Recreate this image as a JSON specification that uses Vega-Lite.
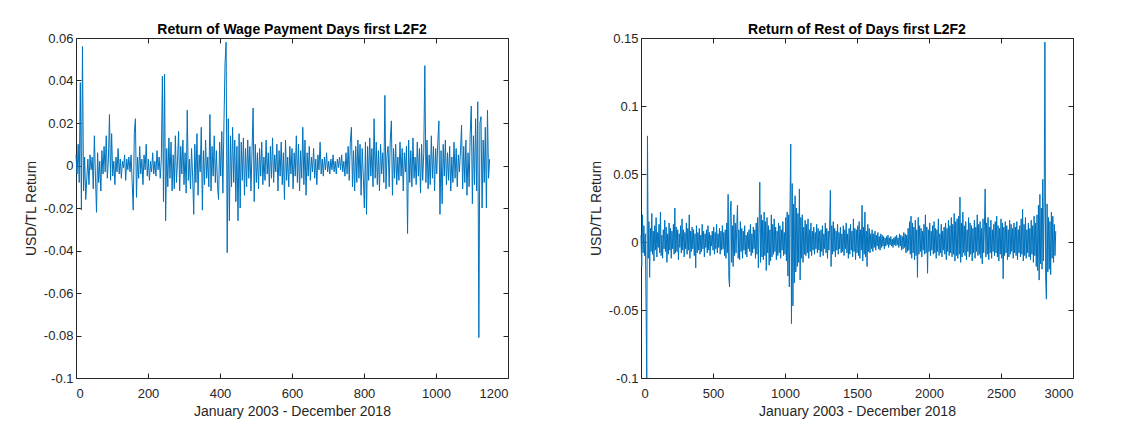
{
"$schema":"https://vega.github.io/schema/vega-lite/v6.json",
"padding":{"left":23,"top":22,"right":5,"bottom":5},
"background":"white",
"spacing":133,
"bounds":"flush",
"config":{
"view":{"stroke":"#262626","strokeWidth":1},
"font":"Liberation Sans",
"axis":{"grid":false,"domain":false,"tickColor":"#262626","tickSize":-5,"tickWidth":1,"labelColor":"#262626","labelFont":"Liberation Sans","labelFontSize":13,"titleFont":"Liberation Sans","titleFontSize":14,"titleFontWeight":"normal","titleColor":"#262626"},
"axisX":{"labelPadding":14,"titlePadding":4},
"axisY":{"labelPadding":8,"titlePadding":5},
"title":{"font":"Liberation Sans","fontSize":14,"fontWeight":"bold","color":"#000000","offset":-5}
},
"hconcat":[
{
"width":432,"height":340,
"title":"Return of Wage Payment Days first L2F2",
"layer":[
{
"data":{"values":[{"x":[0,3,6,9,12,15,18,21,24,27,30,33,36,39,42,45,48,51,54,57,60,63,66,69,72,75,78,81,84,87,90,93,96,99,102,105,108,111,114,117,120,123,126,129,132,135,138,141,144,147,150,153,156,159,162,165,168,171,174,177,180,183,186,189,192,195,198,201,204,207,210,213,216,219,222,225,228,231,234,237,240,243,246,249,252,255,258,261,264,267,270,273,276,279,282,285,288,291,294,297,300,303,306,309,312,315,318,321,324,327,330,333,336,339,342,345,348,351,354,357,360,363,366,369,372,375,378,381,384,387,390,393,396,399,402,405,408,411,414,417,420,423,426,429,432,435,438,441,444,447,450,453,456,459,462,465,468,471,474,477,480,483,486,489,492,495,498,501,504,507,510,513,516,519,522,525,528,531,534,537,540,543,546,549,552,555,558,561,564,567,570,573,576,579,582,585,588,591,594,597,600,603,606,609,612,615,618,621,624,627,630,633,636,639,642,645,648,651,654,657,660,663,666,669,672,675,678,681,684,687,690,693,696,699,702,705,708,711,714,717,720,723,726,729,732,735,738,741,744,747,750,753,756,759,762,765,768,771,774,777,780,783,786,789,792,795,798,801,804,807,810,813,816,819,822,825,828,831,834,837,840,843,846,849,852,855,858,861,864,867,870,873,876,879,882,885,888,891,894,897,900,903,906,909,912,915,918,921,924,927,930,933,936,939,942,945,948,951,954,957,960,963,966,969,972,975,978,981,984,987,990,993,996,999,1002,1005,1008,1011,1014,1017,1020,1023,1026,1029,1032,1035,1038,1041,1044,1047,1050,1053,1056,1059,1062,1065,1068,1071,1074,1077,1080,1083,1086,1089,1092,1095,1098,1101,1104,1107,1110,1113,1116,1119,1122,1125,1128,1131,1134,1137,1140,1143,1146,1149],
"y":[0.005,-0.004,0.010,-0.008,0.039,-0.021,0.056,-0.012,0.004,-0.016,
-0.006,0.003,-0.009,0.005,-0.002,0.004,-0.011,0.014,-0.005,-0.022,
0.006,-0.008,0.002,-0.012,0.007,-0.004,0.009,-0.003,0.014,-0.006,
0.003,0.024,-0.007,0.015,-0.005,0.002,-0.009,0.004,-0.003,0.008,
-0.004,0.003,-0.006,0.002,-0.001,0.005,-0.007,0.003,-0.002,0.004,
-0.003,0.005,-0.008,-0.021,0.015,0.022,-0.015,0.004,-0.006,0.009,
-0.004,0.003,-0.009,0.005,-0.002,0.010,-0.005,0.003,-0.007,0.002,
-0.003,0.006,-0.004,0.002,-0.005,0.007,-0.002,0.004,-0.006,0.003,
0.042,-0.017,0.043,-0.026,0.008,-0.010,0.013,-0.006,0.011,-0.012,
0.005,-0.011,0.014,-0.008,0.002,0.016,-0.012,0.009,-0.004,0.012,
-0.009,0.006,-0.013,0.026,-0.007,0.003,-0.011,0.008,-0.005,-0.023,
0.010,-0.008,0.015,-0.014,0.005,-0.003,0.018,-0.021,0.007,-0.009,
0.012,-0.006,0.004,-0.010,0.024,-0.012,0.009,-0.005,0.014,-0.008,
0.007,-0.009,-0.016,0.011,-0.005,0.016,-0.013,0.020,0.048,0.058,
-0.041,0.022,-0.026,0.014,-0.010,0.018,-0.008,0.012,-0.017,0.009,
-0.026,0.015,-0.020,0.011,-0.007,0.013,-0.014,0.008,-0.010,0.012,
-0.006,0.009,-0.012,0.007,0.027,-0.017,0.010,-0.008,0.006,-0.011,
0.008,-0.005,0.011,-0.009,0.004,-0.007,0.012,-0.004,0.006,-0.010,
0.009,-0.006,0.013,-0.008,0.005,-0.003,0.010,-0.012,0.007,-0.005,
0.011,-0.009,0.006,-0.016,0.012,-0.007,0.004,-0.010,0.009,-0.004,
0.008,-0.011,0.006,-0.005,0.014,-0.008,0.010,-0.012,0.007,-0.006,
0.018,-0.009,0.012,-0.014,0.006,-0.005,0.009,-0.007,0.004,-0.003,
0.008,-0.006,0.003,-0.009,0.005,-0.002,0.011,-0.004,0.003,-0.005,
0.004,-0.002,0.006,-0.003,0.002,-0.004,0.003,-0.002,0.005,-0.003,
0.002,-0.004,0.003,-0.001,0.004,-0.002,0.005,-0.003,0.002,-0.005,
0.006,-0.004,0.009,-0.007,0.011,0.018,-0.010,0.007,-0.012,0.009,
-0.008,0.012,-0.006,0.010,-0.014,0.008,-0.005,-0.020,0.011,-0.023,
0.009,-0.007,0.013,-0.005,0.008,-0.010,0.022,-0.006,0.011,-0.009,
0.007,-0.012,0.010,-0.004,0.006,-0.008,0.033,-0.011,0.005,0.009,
-0.010,0.012,0.021,-0.014,0.008,-0.006,0.010,-0.009,0.004,-0.007,
0.011,-0.005,0.008,-0.012,0.006,-0.003,0.009,-0.032,0.012,-0.008,
0.007,-0.010,0.013,-0.006,0.004,-0.009,0.011,-0.005,0.008,-0.013,
0.010,-0.007,0.006,0.047,-0.008,0.012,-0.011,0.005,-0.009,0.014,
-0.006,0.009,-0.012,0.008,-0.004,0.011,0.021,-0.023,0.007,-0.018,
0.010,-0.005,0.012,-0.009,0.006,-0.007,0.009,-0.012,0.004,-0.008,
0.011,-0.006,0.008,-0.010,0.005,-0.003,0.007,0.019,-0.011,0.009,
-0.008,0.012,-0.014,0.006,-0.010,0.015,0.028,-0.018,0.014,-0.009,
0.022,-0.012,0.030,-0.081,0.020,0.023,-0.020,0.012,-0.008,0.018,
-0.020,0.026,-0.006,0.003]}]},
"transform":[{"flatten":["x","y"]}],
"mark":{"type":"line","color":"#0072BD","strokeWidth":1},
"encoding":{
"x":{"field":"x","type":"quantitative","scale":{"domain":[0,1200],"nice":false,"zero":false},"axis":{"values":[0,200,400,600,800,1000,1200],"format":"d","title":"January 2003 - December 2018"}},
"y":{"field":"y","type":"quantitative","scale":{"domain":[-0.1,0.06],"nice":false,"zero":false},"axis":{"values":[-0.1,-0.08,-0.06,-0.04,-0.02,0,0.02,0.04,0.06],"labelExpr":"replace(format(datum.value,'.2~f'),'−','-')","title":"USD/TL Return"}}
}
},
{
"data":{"values":[{"x":0,"y":0}]},
"mark":{"type":"point","opacity":0},
"encoding":{
"x":{"field":"x","type":"quantitative","scale":{"domain":[0,1200],"nice":false,"zero":false},"axis":{"orient":"top","values":[0,200,400,600,800,1000,1200],"labels":false,"title":null}},
"y":{"field":"y","type":"quantitative","scale":{"domain":[-0.1,0.06],"nice":false,"zero":false},"axis":{"orient":"right","values":[-0.1,-0.08,-0.06,-0.04,-0.02,0,0.02,0.04,0.06],"labels":false,"title":null}}
}
}
],
"resolve":{"axis":{"x":"independent","y":"independent"}}
},
{
"width":432,"height":340,
"title":"Return of Rest of Days first L2F2",
"layer":[
{
"data":{"values":[{"x":[0,5,10,15,20,25,30,35,40,45,50,55,60,65,70,75,80,85,90,95,100,105,110,115,120,125,130,135,140,145,150,155,160,165,170,175,180,185,190,195,200,205,210,215,220,225,230,235,240,245,250,255,260,265,270,275,280,285,290,295,300,305,310,315,320,325,330,335,340,345,350,355,360,365,370,375,380,385,390,395,400,405,410,415,420,425,430,435,440,445,450,455,460,465,470,475,480,485,490,495,500,505,510,515,520,525,530,535,540,545,550,555,560,565,570,575,580,585,590,595,600,605,610,615,620,625,630,635,640,645,650,655,660,665,670,675,680,685,690,695,700,705,710,715,720,725,730,735,740,745,750,755,760,765,770,775,780,785,790,795,800,805,810,815,820,825,830,835,840,845,850,855,860,865,870,875,880,885,890,895,900,905,910,915,920,925,930,935,940,945,950,955,960,965,970,975,980,985,990,995,1000,1005,1010,1015,1020,1025,1030,1035,1040,1045,1050,1055,1060,1065,1070,1075,1080,1085,1090,1095,1100,1105,1110,1115,1120,1125,1130,1135,1140,1145,1150,1155,1160,1165,1170,1175,1180,1185,1190,1195,1200,1205,1210,1215,1220,1225,1230,1235,1240,1245,1250,1255,1260,1265,1270,1275,1280,1285,1290,1295,1300,1305,1310,1315,1320,1325,1330,1335,1340,1345,1350,1355,1360,1365,1370,1375,1380,1385,1390,1395,1400,1405,1410,1415,1420,1425,1430,1435,1440,1445,1450,1455,1460,1465,1470,1475,1480,1485,1490,1495,1500,1505,1510,1515,1520,1525,1530,1535,1540,1545,1550,1555,1560,1565,1570,1575,1580,1585,1590,1595,1600,1605,1610,1615,1620,1625,1630,1635,1640,1645,1650,1655,1660,1665,1670,1675,1680,1685,1690,1695,1700,1705,1710,1715,1720,1725,1730,1735,1740,1745,1750,1755,1760,1765,1770,1775,1780,1785,1790,1795,1800,1805,1810,1815,1820,1825,1830,1835,1840,1845,1850,1855,1860,1865,1870,1875,1880,1885,1890,1895,1900,1905,1910,1915,1920,1925,1930,1935,1940,1945,1950,1955,1960,1965,1970,1975,1980,1985,1990,1995,2000,2005,2010,2015,2020,2025,2030,2035,2040,2045,2050,2055,2060,2065,2070,2075,2080,2085,2090,2095,2100,2105,2110,2115,2120,2125,2130,2135,2140,2145,2150,2155,2160,2165,2170,2175,2180,2185,2190,2195,2200,2205,2210,2215,2220,2225,2230,2235,2240,2245,2250,2255,2260,2265,2270,2275,2280,2285,2290,2295,2300,2305,2310,2315,2320,2325,2330,2335,2340,2345,2350,2355,2360,2365,2370,2375,2380,2385,2390,2395,2400,2405,2410,2415,2420,2425,2430,2435,2440,2445,2450,2455,2460,2465,2470,2475,2480,2485,2490,2495,2500,2505,2510,2515,2520,2525,2530,2535,2540,2545,2550,2555,2560,2565,2570,2575,2580,2585,2590,2595,2600,2605,2610,2615,2620,2625,2630,2635,2640,2645,2650,2655,2660,2665,2670,2675,2680,2685,2690,2695,2700,2705,2710,2715,2720,2725,2730,2735,2740,2745,2750,2755,2760,2765,2770,2775,2780,2785,2790,2795,2800,2805,2810,2815,2820,2825,2830,2835,2840,2845,2850,2855,2860,2865,2870,2875,2880],
"y":[0.005,-0.018,0.020,-0.008,0.012,-0.010,0.006,-0.045,-0.100,0.078,
-0.012,0.015,-0.026,0.010,-0.007,0.021,-0.009,0.008,-0.014,0.012,
-0.006,0.018,-0.011,0.007,-0.004,0.013,-0.008,0.022,-0.010,0.005,
-0.012,0.009,-0.005,0.016,-0.007,0.011,-0.015,0.006,-0.009,0.014,
-0.006,0.010,-0.012,0.008,-0.005,0.013,-0.009,0.025,-0.008,0.011,
-0.007,0.009,-0.013,0.006,-0.004,0.012,-0.008,0.017,-0.006,0.009,
-0.011,0.007,-0.005,0.014,-0.009,0.010,-0.006,0.020,-0.012,0.008,
-0.007,0.011,-0.005,0.009,-0.010,0.006,-0.019,0.012,-0.008,0.007,
-0.006,0.010,-0.009,0.005,-0.007,0.013,-0.005,0.008,-0.011,0.006,
-0.004,0.009,-0.008,0.012,-0.006,0.007,-0.010,0.005,-0.003,0.008,
-0.006,0.011,-0.009,0.007,-0.005,0.013,-0.008,0.006,-0.004,0.010,
-0.009,0.008,-0.006,0.012,-0.005,0.007,-0.010,0.009,-0.012,0.014,
-0.008,0.035,-0.026,-0.033,0.022,0.030,-0.015,0.012,-0.018,0.020,
-0.010,0.014,-0.008,0.011,0.027,-0.012,0.009,-0.013,0.015,-0.007,
0.010,-0.012,0.008,-0.006,0.012,-0.009,0.005,-0.011,0.007,-0.005,
0.009,-0.007,0.013,-0.010,0.006,-0.008,0.011,-0.005,0.009,-0.012,
0.014,-0.009,0.018,-0.019,0.012,0.044,-0.015,0.020,-0.011,0.016,
-0.013,0.022,-0.010,0.015,-0.021,0.018,-0.008,0.012,-0.017,0.009,
-0.014,0.020,-0.011,0.013,-0.009,0.017,-0.007,0.011,-0.013,0.008,
-0.010,0.014,-0.008,0.012,-0.012,0.009,-0.006,0.015,-0.010,0.007,
-0.009,0.018,-0.014,0.022,-0.025,0.020,-0.033,0.030,0.072,-0.060,
0.043,-0.047,0.028,-0.030,0.034,-0.022,0.025,-0.018,0.021,-0.015,
0.039,-0.028,0.018,-0.012,0.020,-0.015,0.011,-0.009,0.016,-0.010,
0.013,-0.008,0.017,-0.012,0.009,-0.007,0.014,-0.010,0.008,-0.006,
0.011,-0.009,0.007,-0.005,0.013,-0.008,0.010,-0.006,0.008,-0.011,
0.009,-0.007,0.012,-0.010,0.006,-0.005,0.014,-0.008,0.010,-0.012,
0.008,-0.006,0.011,0.038,-0.018,0.012,-0.009,0.015,-0.007,0.010,
-0.011,0.008,-0.006,0.013,-0.009,0.007,-0.005,0.011,-0.008,0.006,
-0.007,0.012,-0.010,0.009,-0.005,0.014,-0.008,0.006,-0.012,0.010,
-0.009,0.013,-0.006,0.008,-0.011,0.017,-0.007,0.010,-0.013,0.009,
-0.008,0.012,-0.010,0.015,-0.012,0.009,-0.006,0.027,-0.014,0.011,
-0.009,0.022,-0.011,0.008,-0.018,0.013,-0.007,0.010,-0.008,0.006,
-0.005,0.009,-0.007,0.006,-0.004,0.008,-0.006,0.005,-0.003,0.007,
-0.005,0.004,-0.006,0.006,-0.004,0.005,-0.003,0.004,-0.005,0.003,
-0.003,0.004,-0.002,0.005,-0.004,0.003,-0.002,0.004,-0.003,0.002,
-0.004,0.003,-0.002,0.004,-0.003,0.005,-0.002,0.003,-0.004,0.006,
-0.003,0.005,-0.006,0.004,-0.005,0.007,-0.004,0.006,-0.008,0.005,
-0.007,0.010,-0.006,0.015,-0.009,0.019,-0.012,0.014,-0.008,0.011,
-0.013,0.016,-0.010,0.009,-0.026,0.018,-0.009,0.012,-0.007,0.010,
-0.011,0.008,-0.006,0.013,-0.009,0.020,-0.008,0.011,-0.023,0.009,
-0.007,0.014,-0.010,0.008,-0.006,0.012,-0.009,0.015,-0.008,0.010,
-0.012,0.009,-0.007,0.017,-0.010,0.006,-0.008,0.013,-0.011,0.008,
-0.006,0.011,-0.009,0.014,-0.013,0.010,-0.007,0.016,-0.010,0.012,
-0.008,0.018,-0.011,0.013,-0.009,0.021,-0.014,0.015,-0.010,0.017,
-0.012,0.019,-0.009,0.033,-0.015,0.014,-0.011,0.022,-0.008,0.012,
-0.010,0.015,-0.013,0.009,-0.007,0.018,-0.011,0.014,-0.009,0.012,
-0.014,0.010,-0.008,0.016,-0.012,0.011,-0.007,0.020,-0.010,0.013,
-0.009,0.015,-0.012,0.010,-0.016,0.017,-0.008,0.012,0.039,-0.011,
0.014,-0.009,0.018,-0.013,0.011,-0.008,0.016,-0.012,0.009,-0.007,
0.013,-0.010,0.015,-0.008,0.019,-0.011,0.012,-0.014,0.010,-0.009,
0.017,-0.012,0.014,-0.027,0.011,-0.010,0.015,-0.008,0.012,-0.013,
0.009,-0.011,0.016,-0.009,0.013,-0.007,0.010,-0.012,0.014,-0.008,
0.011,-0.010,0.015,-0.013,0.009,-0.008,0.012,-0.011,0.017,-0.009,
0.024,-0.014,0.013,-0.010,0.018,-0.012,0.009,-0.008,0.014,-0.011,
0.010,-0.013,0.016,-0.009,0.012,-0.015,0.019,-0.010,0.014,-0.018,
0.020,-0.021,0.027,-0.028,0.035,-0.016,0.025,-0.020,0.046,-0.014,
0.030,0.147,-0.025,-0.042,0.028,-0.022,0.018,-0.020,0.015,-0.024,
0.022,-0.012,0.019,-0.015,0.013,-0.010,0.008]}]},
"transform":[{"flatten":["x","y"]}],
"mark":{"type":"line","color":"#0072BD","strokeWidth":1},
"encoding":{
"x":{"field":"x","type":"quantitative","scale":{"domain":[0,3000],"nice":false,"zero":false},"axis":{"values":[0,500,1000,1500,2000,2500,3000],"format":"d","title":"January 2003 - December 2018"}},
"y":{"field":"y","type":"quantitative","scale":{"domain":[-0.1,0.15],"nice":false,"zero":false},"axis":{"values":[-0.1,-0.05,0,0.05,0.1,0.15],"labelExpr":"replace(format(datum.value,'.2~f'),'−','-')","title":"USD/TL Return"}}
}
},
{
"data":{"values":[{"x":0,"y":0}]},
"mark":{"type":"point","opacity":0},
"encoding":{
"x":{"field":"x","type":"quantitative","scale":{"domain":[0,3000],"nice":false,"zero":false},"axis":{"orient":"top","values":[0,500,1000,1500,2000,2500,3000],"labels":false,"title":null}},
"y":{"field":"y","type":"quantitative","scale":{"domain":[-0.1,0.15],"nice":false,"zero":false},"axis":{"orient":"right","values":[-0.1,-0.05,0,0.05,0.1,0.15],"labels":false,"title":null}}
}
}
],
"resolve":{"axis":{"x":"independent","y":"independent"}}
}
]
}
